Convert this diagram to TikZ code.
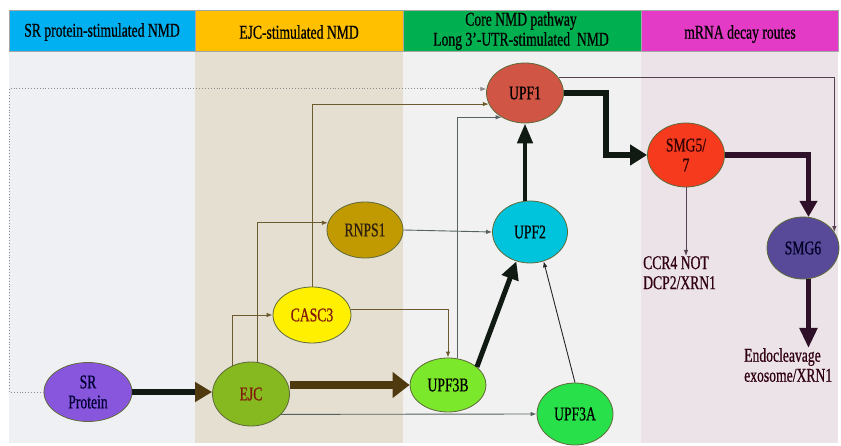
\documentclass[tikz,border=0pt]{standalone}
\usepackage{fontspec}
\setmainfont{Liberation Serif}[FakeStretch=0.7,FakeBold=0.6]
\usetikzlibrary{shapes.geometric,arrows.meta,calc}
\definecolor{hblue}{HTML}{00B0F0}
\definecolor{hyellow}{HTML}{FFC000}
\definecolor{hgreen}{HTML}{00B050}
\definecolor{hmag}{HTML}{E33BC6}
\definecolor{bgA}{HTML}{EFF0F3}
\definecolor{bgB}{HTML}{E4DFD0}
\definecolor{bgC}{HTML}{F1F1F1}
\definecolor{bgD}{HTML}{EBE3E8}
\definecolor{cUPFa}{HTML}{D05545}
\definecolor{cUPFb}{HTML}{00C4DC}
\definecolor{cSMGa}{HTML}{F53A1E}
\definecolor{cSMGb}{HTML}{584A98}
\definecolor{cRNPS}{HTML}{C09A00}
\definecolor{cCASC}{HTML}{FFF000}
\definecolor{cEJC}{HTML}{86B820}
\definecolor{cSR}{HTML}{8855DD}
\definecolor{cUPFc}{HTML}{7CE82C}
\definecolor{cUPFd}{HTML}{28E04A}
\definecolor{brownline}{HTML}{6B5B2E}
\definecolor{grayline}{HTML}{566262}
\definecolor{thickbrown}{HTML}{4F3A10}
\definecolor{thickdark}{HTML}{101A12}
\definecolor{thickpurple}{HTML}{2E1028}
\definecolor{edge}{HTML}{5E6A3A}
\begin{document}
\begin{tikzpicture}[x=1pt,y=-1pt,
  txt/.style={font=\fontsize{19.5}{20}\selectfont},
  hdr/.style={txt, align=center, inner sep=0pt},
  ell/.style={ellipse, draw=edge, line width=0.8pt, inner sep=0pt, txt, align=center},
  thin/.style={line width=0.9pt, -{Latex[length=6pt,width=4.5pt]}},
  bigtip/.style={-{Triangle[length=17pt,width=20pt]}},
  hbox/.style={draw=black!35, line width=0.6pt}
]
\useasboundingbox (0,0) rectangle (841,446);
% column backgrounds
\fill[bgA] (9,51) rectangle (195,443);
\fill[bgB] (195,51) rectangle (403,443);
\fill[bgC] (403,51) rectangle (641,443);
\fill[bgD] (641,51) rectangle (838,443);
% header cells
\filldraw[hbox, fill=hblue] (9,10) rectangle (195,51);
\filldraw[hbox, fill=hyellow] (195,10) rectangle (403,51);
\filldraw[hbox, fill=hgreen] (403,10) rectangle (641,51);
\filldraw[hbox, fill=hmag] (641,10) rectangle (838,51);
\node[hdr] (h1) at (102,32) {SR protein-stimulated NMD};
\node[hdr] (h2) at (299,32) {EJC-stimulated NMD};
\node[hdr] (h3) at (521,31) {Core NMD pathway\\Long 3’-UTR-stimulated\ \ NMD};
\node[hdr] (h4) at (740,34) {mRNA decay routes};
% nodes
\node[ell, fill=cUPFa, minimum width=77pt, minimum height=60pt] (UPF1) at (525,93) {UPF1};
\node[ell, fill=cUPFb, minimum width=75pt, minimum height=62pt] (UPF2) at (530,232) {UPF2};
\node[ell, fill=cSMGa, minimum width=77pt, minimum height=64pt, text=black!80!red] (SMG57) at (686,155) {SMG5/\\7};
\node[ell, fill=cSMGb, minimum width=72pt, minimum height=62pt, text=black!85!blue] (SMG6) at (803,248) {SMG6};
\node[ell, fill=cRNPS, minimum width=76pt, minimum height=56pt, text=black!75!brown] (RNPS1) at (365,230) {RNPS1};
\node[ell, fill=cCASC, minimum width=78pt, minimum height=56pt, text=black!55!red!80!brown] (CASC3) at (312,315) {CASC3};
\node[ell, fill=cEJC, minimum width=77pt, minimum height=64pt, text=black!55!red!80!brown] (EJC) at (251,394) {EJC};
\node[ell, fill=cSR, minimum width=88pt, minimum height=59pt, text=black!80!blue] (SR) at (88,392) {SR\\Protein};
\node[ell, fill=cUPFc, minimum width=76pt, minimum height=54pt] (UPF3B) at (448,385) {UPF3B};
\node[ell, fill=cUPFd, minimum width=76pt, minimum height=62pt] (UPF3A) at (575,414) {UPF3A};
\node[txt, align=left, anchor=north west, inner sep=0pt, text=black!75!purple] (ccr) at (643,256) {CCR4 NOT\\DCP2/XRN1};
\node[txt, align=left, anchor=north west, inner sep=0pt, text=black!75!purple] (endo) at (744,348) {Endocleavage\\exosome/XRN1};
% connectors
\coordinate (dl) at (9,392);
\draw[black!45, dotted, line width=0.9pt, -{Latex[length=6pt,width=4.5pt]}] (SR.west) -- (dl) |- (UPF1.174);
\draw[thin, brownline] (CASC3.north) |- (UPF1.197);
\draw[thin, grayline] (UPF3B.71) |- (UPF1.226);
\draw[thin, brownline] (EJC.79) |- (RNPS1.169);
\draw[thin, brownline] (EJC.124) |- (CASC3.west);
\draw[thin, brownline] (CASC3.8) -| (UPF3B.north);
\draw[thin, grayline] (EJC.-34) -- (UPF3A.west);
\draw[thin, grayline] (RNPS1.east) -- (UPF2.west);
\draw[thin, black!85] (UPF3A.north) -- (UPF2.295);
\draw[thin, thickpurple!80] (UPF1.24) -| (SMG6.27);
\draw[thin, thickpurple!80] (SMG57.south) -- (SMG57.south |- ccr.north);
% thick arrows
\draw[line width=6pt, thickdark, -{Triangle[length=17pt,width=19pt,color=thickbrown]}] (SR.east) -- (SR.east -| EJC.west);
\draw[line width=8pt, thickbrown, -{Triangle[length=17pt,width=25pt]}] (EJC.east |- UPF3B.west) -- (UPF3B.west);
\draw[line width=5pt, thickdark, -{Triangle[length=18pt,width=17pt]}] (UPF3B.32) -- (UPF2.245);
\draw[line width=4.5pt, thickdark, -{Triangle[length=20pt,width=15pt]}] (UPF1.south |- UPF2.north) -- (UPF1.south);
\draw[line width=6pt, thickdark, bigtip] (UPF1.east) -- ++(42,0) |- (SMG57.west);
\draw[line width=5.5pt, thickpurple, -{Triangle[length=16pt,width=17pt]}] (SMG57.east) -| (SMG6.80);
\draw[line width=5.5pt, thickpurple, -{Triangle[length=20pt,width=17pt]}] (SMG6.-80) -- (SMG6.-80 |- endo.north);
\end{tikzpicture}
\end{document}
